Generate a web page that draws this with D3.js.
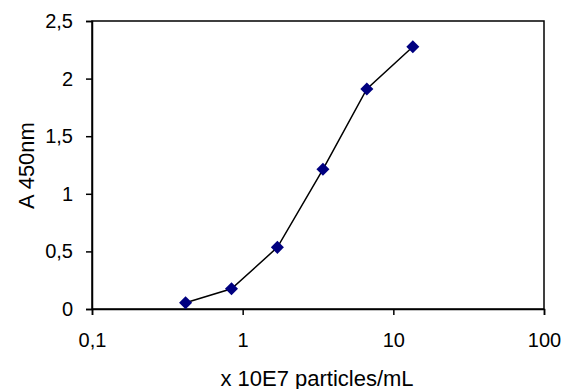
<!DOCTYPE html>
<html><head><meta charset="utf-8">
<script src="https://cdn.jsdelivr.net/npm/d3@7"></script>
<style>body{margin:0;background:#fff}svg{display:block}text{font-family:"Liberation Sans",Arial,sans-serif;fill:#000}</style>
</head><body>
<svg id="c" width="563" height="389"></svg>
<script>
const xValues = [0.418, 0.843, 1.70, 3.41, 6.67, 13.47];
const yValues = [0.055, 0.176, 0.535, 1.213, 1.91, 2.277];
const xTicks = [0.1, 1, 10, 100];
const xTickLabels = ["0,1", "1", "10", "100"];
const yTicks = [0, 0.5, 1, 1.5, 2, 2.5];
const yTickLabels = ["0", "0,5", "1", "1,5", "2", "2,5"];
const xTitle = "x 10E7 particles/mL";
const yTitle = "A 450nm";

const svg = d3.select("#c");
const L = 92, R = 544, T = 21, B = 309;
const x = d3.scaleLog().domain([0.1, 100]).range([L, R]);
const y = d3.scaleLinear().domain([0, 2.5]).range([B, T]);

svg.append("rect").attr("x", L).attr("y", T).attr("width", R - L).attr("height", B - T)
  .attr("fill", "none").attr("stroke", "#000").attr("stroke-width", 1.5);

const xa = svg.append("g").attr("transform", `translate(0,${B})`)
  .call(d3.axisBottom(x).tickValues(xTicks).tickFormat((d, i) => xTickLabels[i]).tickSize(6).tickPadding(18));
const ya = svg.append("g").attr("transform", `translate(${L},0)`)
  .call(d3.axisLeft(y).tickValues(yTicks).tickFormat((d, i) => yTickLabels[i]).tickSize(6).tickPadding(13));
[xa, ya].forEach(a => {
  a.attr("font-size", 20).attr("font-family", '"Liberation Sans", Arial, sans-serif');
  a.select(".domain").attr("stroke", "#000").attr("stroke-width", 1.5);
  a.selectAll(".tick line").attr("stroke", "#000").attr("stroke-width", 1.5);
  a.selectAll(".tick text").style("font-size", "20px");
});

const data = xValues.map((v, i) => [v, yValues[i]]);
svg.append("path").datum(data)
  .attr("d", d3.line().x(d => x(d[0])).y(d => y(d[1])))
  .attr("fill", "none").attr("stroke", "#000").attr("stroke-width", 1.5);

svg.selectAll(".pt").data(data).enter().append("path")
  .attr("transform", d => `translate(${x(d[0])},${y(d[1])}) rotate(45)`)
  .attr("d", d3.symbol().type(d3.symbolSquare).size(85))
  .attr("fill", "#000080");

svg.append("text").attr("x", 317).attr("y", 386).attr("text-anchor", "middle")
  .style("font-size", "22px").text(xTitle);
svg.append("text").attr("transform", "translate(34,165.5) rotate(-90)").attr("text-anchor", "middle")
  .style("font-size", "22px").text(yTitle);
</script>
</body></html>
